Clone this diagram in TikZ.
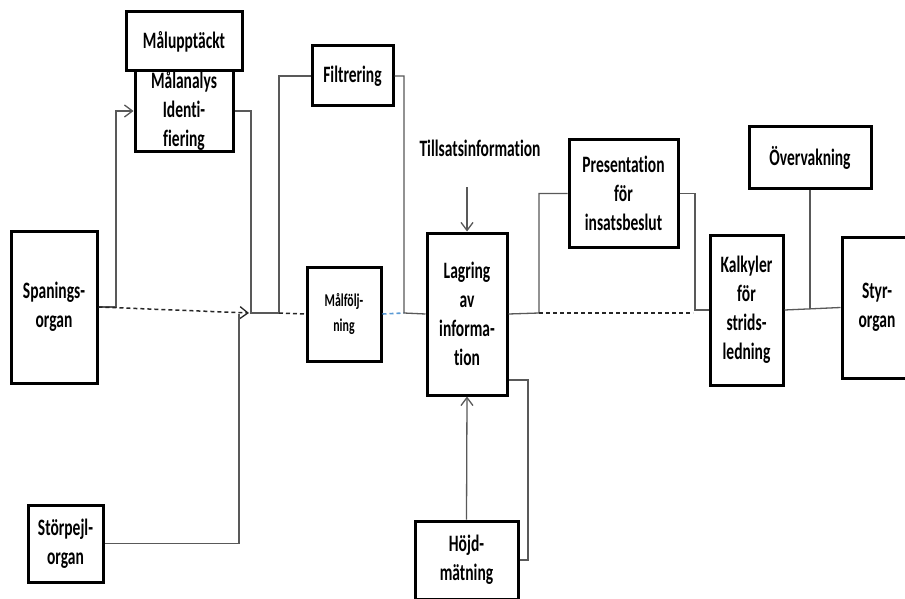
\documentclass[tikz,border=0pt]{standalone}
\usepackage{fontspec}
\setmainfont{Carlito}[FakeStretch=0.66, Ligatures=NoCommon]
\usetikzlibrary{arrows.meta}
\definecolor{linkblue}{RGB}{91,155,213}
\begin{document}
\begin{tikzpicture}[x=1pt,y=-1pt,
  box/.style={draw=black, line width=3pt, fill=white, align=center,
    inner sep=0pt, font=\fontsize{23.5}{29}\selectfont\bfseries},
  lbl/.style={align=center, inner sep=0pt, font=\fontsize{23.5}{29}\selectfont\bfseries},
  conn/.style={draw=black!65, line width=1.3pt},
  dconn/.style={draw=black!85, line width=1.5pt, dash pattern=on 4pt off 3pt},
  bconn/.style={draw=linkblue, line width=1.6pt, dash pattern=on 4pt off 3pt},
  arr/.style={-{Straight Barb[length=8pt,width=12pt,line width=1.3pt]}}]
\useasboundingbox (0,0) rectangle (905,599);
\fill[white] (0,0) rectangle (905,599);

% functional blocks
\node[box, minimum width=98pt, minimum height=82pt] (malanalys) at (184,111) {Målanalys\\Identi-\\fiering};
\node[box, minimum width=116pt, minimum height=59pt] (malupp) at (184,41.5) {Målupptäckt};
\node[box, minimum width=81pt, minimum height=60pt] (filter) at (352.5,76) {Filtrering};
\node[box, minimum width=86pt, minimum height=152pt] (spaning) at (54,307) {Spanings-\\organ};
\node[box, minimum width=75pt, minimum height=77pt] (storpejl) at (65.5,543.5) {Störpejl-\\organ};
\node[box, minimum width=74pt, minimum height=94pt,
      font=\fontsize{18}{25}\selectfont\bfseries] (malfolj) at (344,314) {Målfölj-\\ning};
\node[box, minimum width=80pt, minimum height=162pt] (lagring) at (467,314) {Lagring\\av\\informa-\\tion};
\node[lbl] (tillsats) at (480,148) {Tillsatsinformation};
\node[box, minimum width=103pt, minimum height=78pt] (hojd) at (466.5,560) {Höjd-\\mätning};
\node[box, minimum width=109pt, minimum height=107pt] (present) at (623.5,193.5) {Presentation\\för\\insatsbeslut};
\node[box, minimum width=73pt, minimum height=150pt] (kalk) at (746.5,310) {Kalkyler\\för\\strids-\\ledning};
\node[box, minimum width=122pt, minimum height=61pt] (overv) at (810,157.5) {Övervakning};
\node[box, minimum width=70pt, minimum height=141pt] (styr) at (877,307.5) {Styr-\\organ};

% junction points on the main signal line
\coordinate (j0) at (239,314);
\coordinate (j1) at (251,313);
\coordinate (j2) at (279,313);
\coordinate (j3) at (404,313);
\coordinate (j4) at (539,313);
\coordinate (j5) at (693,313);
\coordinate (k1) at (695,310);
\coordinate (t1) at (467,187);
\coordinate (h1) at (528,380);
\coordinate (s1) at (810,308.5);

% sensor to target analysis
\draw[conn, arr] (spaning.east) -| (116,111) -- (malanalys.west);
\draw[dconn, arr] (spaning.east) -- (249,313);
\draw[conn] (malanalys.east) -| (j1) -- (j2);
\draw[conn] (storpejl.east) -| (j0);

% filtering and tracking
\draw[conn] (j2) |- (filter.west);
\draw[dconn] (j2) -- (malfolj.west);
\draw[bconn] (malfolj.east) -- (j3);
\draw[conn] (filter.east) -| (j3) -- (lagring.west);

% inputs to storage
\draw[conn, arr] (t1) -- (lagring.north);
\draw[conn, arr] (hojd.north) -- (lagring.south);
\draw[conn] (hojd.east) -| (h1) -- (h1 -| lagring.east);

% storage to presentation and fire control
\draw[conn] (lagring.east) -- (j4) |- (present.west);
\draw[dconn] (j4) -- (j5);
\draw[conn] (present.east) -| (k1) -- (kalk.west);
\draw[conn] (kalk.east) -- (styr.west);
\draw[conn] (overv.south) -- (s1);
\end{tikzpicture}
\end{document}
